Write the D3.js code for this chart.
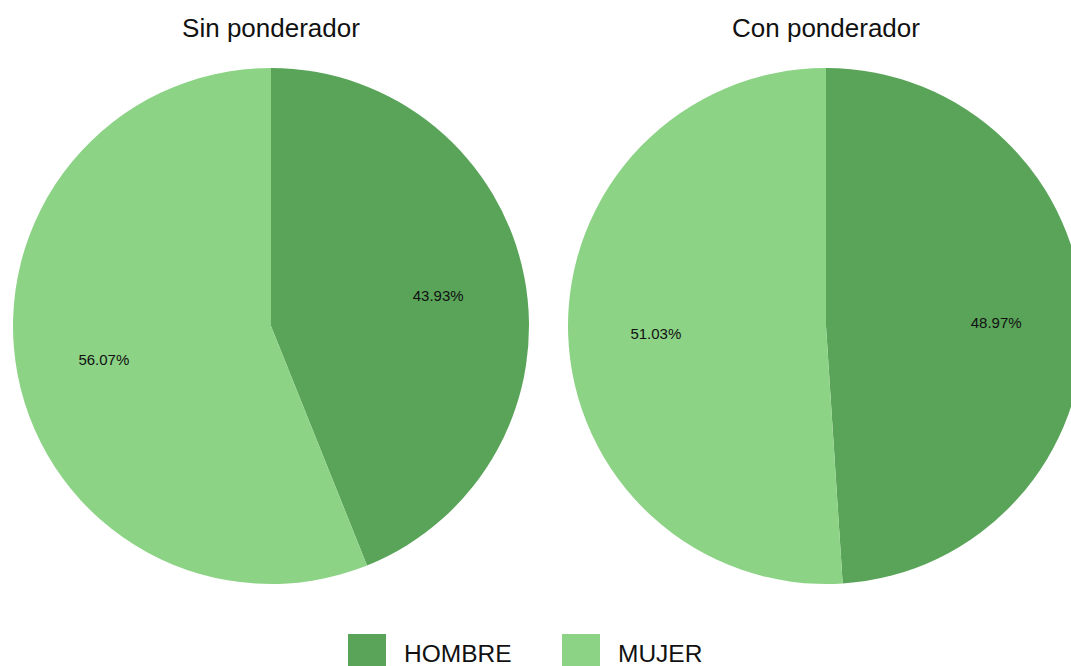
<!DOCTYPE html>
<html>
<head>
<meta charset="utf-8">
<script src="https://cdn.jsdelivr.net/npm/d3@7"></script>
<style>
  body { margin: 0; background: #fff; }
  svg { display: block; font-family: Arial, "Liberation Sans", sans-serif; }
</style>
</head>
<body>
<svg id="chart" width="1071" height="666"></svg>
<script>
// data
var categories = ["HOMBRE", "MUJER"];
var panels = ["Sin ponderador", "Con ponderador"];
var sinPonderador = [43.93, 56.07];
var conPonderador = [48.97, 51.03];
var colors = ["#59a459", "#8cd386"];

var svg = d3.select("#chart");
var color = d3.scaleOrdinal().domain(categories).range(colors);

var R = 258;
var centersX = d3.scalePoint().domain(panels).range([271, 826]);
var cy = 326;

var pie = d3.pie().sort(null).value(function(d){ return d.value; });
var arc = d3.arc().innerRadius(0).outerRadius(R);
var labelArc = d3.arc().innerRadius(R*0.66).outerRadius(R*0.66);

[sinPonderador, conPonderador].forEach(function(vals, i){
     var rows = categories.map(function(c, j){ return {cat: c, value: vals[j]}; });
     var g = svg.append("g")
          .attr("transform", "translate(" + centersX(panels[i]) + "," + cy + ")");

     g.selectAll("path")
          .data(pie(rows))
          .enter().append("path")
          .attr("d", arc)
          .attr("fill", function(d){ return color(d.data.cat); });

     g.selectAll("text.lab")
          .data(pie(rows))
          .enter().append("text")
          .attr("class", "lab")
          .attr("x", function(d){ return labelArc.centroid(d)[0]; })
          .attr("y", function(d){ return labelArc.centroid(d)[1] + 7; })
          .attr("text-anchor", "middle")
          .attr("font-size", "15px")
          .attr("fill", "#111")
          .text(function(d){ return d.data.value.toFixed(2) + "%"; });

     svg.append("text")
          .attr("x", centersX(panels[i]))
          .attr("y", 37)
          .attr("text-anchor", "middle")
          .attr("font-size", "26px")
          .attr("fill", "#111")
          .text(panels[i]);
});

// legend (cut at the bottom edge, as in the original)
var legX = [348, 562];
categories.forEach(function(c, i){
     svg.append("rect")
          .attr("x", legX[i])
          .attr("y", 634)
          .attr("width", 38)
          .attr("height", 38)
          .attr("fill", color(c));
     svg.append("text")
          .attr("x", legX[i] + 56)
          .attr("y", 662)
          .attr("font-size", "24.5px")
          .attr("fill", "#111")
          .text(c);
});
</script>
</body>
</html>
